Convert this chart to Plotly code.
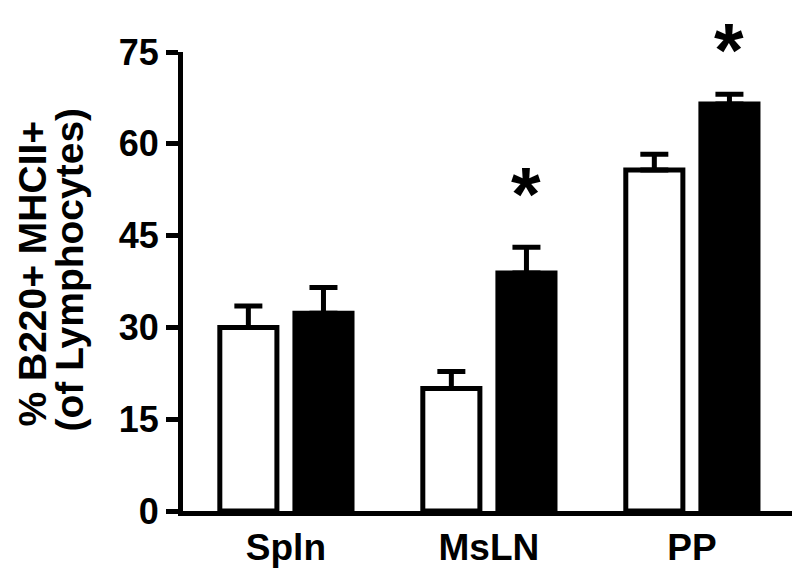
import plotly.graph_objects as go

categories = ["Spln", "MsLN", "PP"]
control_mean = [30.0, 20.0, 55.7]
control_err = [3.5, 2.8, 2.6]
treated_mean = [32.3, 38.9, 66.5]
treated_err = [4.2, 4.2, 1.6]
star_y = [None, 53.8, 77.3]   # asterisk heights (data units)
y_ticks = [0, 15, 30, 45, 60, 75]
Y_MAX = 75
title_lines = ["% B220+ MHCII+", "(of Lymphocytes)"]

FONT = "Arial, Liberation Sans, sans-serif"
bargap = 0.26
L, R, T, B = 175, 13, 44, 68
PW = 800 - L - R
PH = 571 - T - B

fig = go.Figure()
fig.add_trace(go.Bar(
    x=categories, y=control_mean, name="control",
    marker=dict(color="white", line=dict(color="black", width=5)),
    error_y=dict(type="data", array=control_err, arrayminus=[0]*3, symmetric=False,
                 color="black", thickness=5, width=14),
))
fig.add_trace(go.Bar(
    x=categories, y=treated_mean, name="treated",
    marker=dict(color="black", line=dict(color="black", width=5)),
    error_y=dict(type="data", array=treated_err, arrayminus=[0]*3, symmetric=False,
                 color="black", thickness=5, width=14),
))

offset = (1 - bargap) / 4
for i, sy in enumerate(star_y):
    if sy is None:
        continue
    fig.add_annotation(x=i + offset, y=sy / Y_MAX, xref="x", yref="paper", text="*",
                       showarrow=False, yanchor="middle", xanchor="center",
                       font=dict(family=FONT, size=76, color="black", weight="bold"),
                       yshift=-12)

# y-axis title, one annotation per line (left edges in figure pixels)
title_left_px = [0, 37]
title_center_px = [266, 262]
for txt, lx, cy in zip(title_lines, title_left_px, title_center_px):
    fig.add_annotation(x=(lx - L) / PW, y=(T + PH - cy) / PH, xref="paper", yref="paper",
                       text=txt, textangle=-90, showarrow=False,
                       xanchor="left", yanchor="middle",
                       font=dict(family=FONT, size=39, color="black", weight="bold"))

fig.update_layout(
    width=800, height=571,
    margin=dict(l=L, r=R, t=T, b=B),
    paper_bgcolor="white", plot_bgcolor="white",
    showlegend=False,
    barmode="group", bargap=bargap, bargroupgap=0.24,
    font=dict(family=FONT, color="black", weight="bold"),
)
fig.update_xaxes(
    range=[-0.507, 2.508], showline=True, linecolor="black", linewidth=5,
    ticks="", showgrid=False, zeroline=False,
    tickfont=dict(size=37, family=FONT, weight="bold"),
)
fig.update_yaxes(
    range=[0, Y_MAX], tickvals=y_ticks, ticktext=[str(v) for v in y_ticks],
    showline=True, linecolor="black", linewidth=5,
    ticks="outside", ticklen=12, tickwidth=5, tickcolor="black",
    showgrid=False, zeroline=False,
    tickfont=dict(size=36, family=FONT, weight="bold"),
)

fig.write_html("out.html")
